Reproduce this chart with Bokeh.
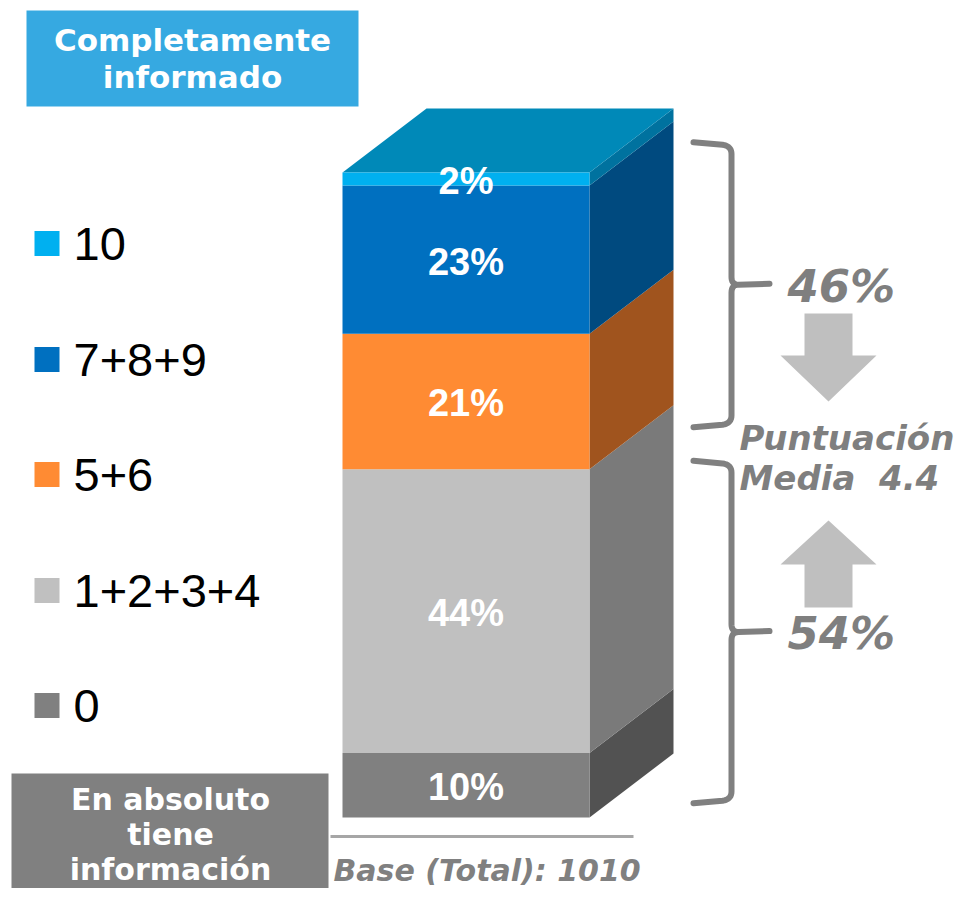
import numpy as np
from bokeh.plotting import figure
from bokeh.models import Range1d
from bokeh.core.properties import value
from bokeh.embed import file_html
from bokeh.resources import INLINE

# ---------------- data ----------------
categories = ["0", "1+2+3+4", "5+6", "7+8+9", "10"]
values = [10, 44, 21, 23, 2]
labels = ["10%", "44%", "21%", "23%", "2%"]
front_colors = ["#808080", "#C0C0C0", "#FF8B33", "#0070C0", "#00B0F0"]
side_colors = ["#525252", "#7A7A7A", "#A0541E", "#004A7F", "#00729F"]
top_color = "#0089B8"
group_labels = ["54%", "46%"]
group_spans = [[2.2, 55.3], [60.5, 104.7]]   # brace extents (percent scale)
mean_label = ["Puntuación", "Media  4.4"]
base_label = "Base (Total): 1010"
top_box_lines = ["Completamente", "informado"]
bottom_box_lines = ["En absoluto", "tiene", "información"]

# ---------------- layout helpers ----------------
PX_PER_PCT = 6.45
BASE_PX = 817.0


def Y(px):
    return (BASE_PX - px) / PX_PER_PCT


W, H = 964, 888
p = figure(width=W, height=H, x_range=Range1d(0, W), y_range=Range1d(Y(H), Y(0)),
           output_backend="svg", toolbar_location=None, x_axis_type=None, y_axis_type=None,
           min_border=0, outline_line_color=None, background_fill_color="white",
           border_fill_color="white")
p.grid.visible = False

# ---------------- 3D stacked bar ----------------
x0, x1 = 342, 589
dx = 84
dy = 64 / PX_PER_PCT
cum = np.concatenate([[0], np.cumsum(values)])
bottoms = cum[:-1]
tops = cum[1:]

side_xs = [[x1, x1 + dx, x1 + dx, x1] for _ in values]
side_ys = [[b, b + dy, t + dy, t] for b, t in zip(bottoms, tops)]
p.patches(side_xs, side_ys, fill_color=side_colors, line_color=None)
p.patch([x0, x0 + dx, x1 + dx, x1], [tops[-1], tops[-1] + dy, tops[-1] + dy, tops[-1]],
        fill_color=top_color, line_color=None)
p.quad(left=x0, right=x1, bottom=bottoms, top=tops, fill_color=front_colors, line_color=None)

mids = (bottoms + tops) / 2
p.text(x=[(x0 + x1) / 2] * len(values), y=list(mids - 0.3), text=labels,
       text_font=value("Liberation Sans"), text_font_size="38px", text_font_style="bold",
       text_color="white", text_align="center", text_baseline="middle")

# baseline
p.line([330, 633], [Y(836), Y(836)], line_color="#A6A6A6", line_width=3)
p.text(x=[333], y=[Y(870)], text=[base_label], text_font=value("DejaVu Sans"),
       text_font_size="30px", text_font_style="bold italic", text_color="#808080",
       text_align="left", text_baseline="middle")

# ---------------- legend ----------------
leg_y = [Y(v) for v in [705, 590, 474, 359, 243]]
p.scatter(x=[46.5] * 5, y=leg_y, marker="square", size=25, fill_color=front_colors,
          line_color=None)
p.text(x=[73] * 5, y=leg_y, text=categories, text_font=value("Liberation Sans"),
       text_font_size="47px", text_color="black", text_align="left", text_baseline="middle")

# ---------------- boxes ----------------
p.quad(left=26, right=358, top=Y(10), bottom=Y(106), fill_color="#36A9E1", line_color=None)
p.text(x=[192, 192], y=[Y(39), Y(76)], text=top_box_lines, text_font=value("DejaVu Sans"),
       text_font_size="31px", text_font_style="bold", text_color="white",
       text_align="center", text_baseline="middle")
p.quad(left=11, right=328, top=Y(773), bottom=Y(910), fill_color="#808080", line_color=None)
p.text(x=[170, 170, 170], y=[Y(799), Y(834), Y(869)], text=bottom_box_lines,
       text_font=value("DejaVu Sans"), text_font_size="30px", text_font_style="bold",
       text_color="white", text_align="center", text_baseline="middle")


# ---------------- braces ----------------
def qbez(a, b, c, n=10):
    t = np.linspace(0, 1, n)
    xs = (1 - t) ** 2 * a[0] + 2 * (1 - t) * t * b[0] + t ** 2 * c[0]
    ys = (1 - t) ** 2 * a[1] + 2 * (1 - t) * t * b[1] + t ** 2 * c[1]
    return list(xs), list(ys)


def brace(lo, hi, xl=693, xv=731, xt=769):
    tip = (lo + hi) / 2
    r = 8 / PX_PER_PCT
    xs, ys = [xl], [hi]
    a, b = qbez((722, hi - 0.4), (xv, hi - 0.6), (xv, hi - r - 0.6))
    xs += a; ys += b
    a, b = qbez((xv, tip + r), (xv, tip), (xv + 7, tip))
    xs += a; ys += b
    xs += [xt]; ys += [tip + 0.15]
    xs += [xv + 7]; ys += [tip]
    a, b = qbez((xv + 7, tip), (xv, tip), (xv, tip - r))
    xs += a; ys += b
    a, b = qbez((xv, lo + r + 0.6), (xv, lo + 0.6), (722, lo + 0.4))
    xs += a; ys += b
    xs += [xl]; ys += [lo]
    return xs, ys, tip


for span, lab in zip(group_spans, group_labels):
    bx, by, tip = brace(*span)
    p.line(bx, by, line_color="#808080", line_width=6, line_cap="round", line_join="round")
    p.text(x=[787], y=[tip - 0.3], text=[lab], text_font=value("DejaVu Sans"),
           text_font_size="45px", text_font_style="bold italic", text_color="#7F7F7F",
           text_align="left", text_baseline="middle")

# mean score label (keep the double space visible in SVG)
p.text(x=[739, 739], y=[Y(437), Y(477)], text=[s.replace("  ", " \u00a0") for s in mean_label],
       text_font=value("DejaVu Sans"), text_font_size="34px", text_font_style="bold italic",
       text_color="#7F7F7F", text_align="left", text_baseline="middle")

# arrows
ax, sw, hw = 828, 24, 48
down = ([ax - sw, ax + sw, ax + sw, ax + hw, ax, ax - hw, ax - sw],
        [Y(313), Y(313), Y(355), Y(355), Y(401), Y(355), Y(355)])
up = ([ax - sw, ax + sw, ax + sw, ax + hw, ax, ax - hw, ax - sw],
      [Y(607), Y(607), Y(564), Y(564), Y(520), Y(564), Y(564)])
p.patches([down[0], up[0]], [down[1], up[1]], fill_color="#BFBFBF", line_color=None)

open("out.html", "w").write(file_html(p, INLINE))
